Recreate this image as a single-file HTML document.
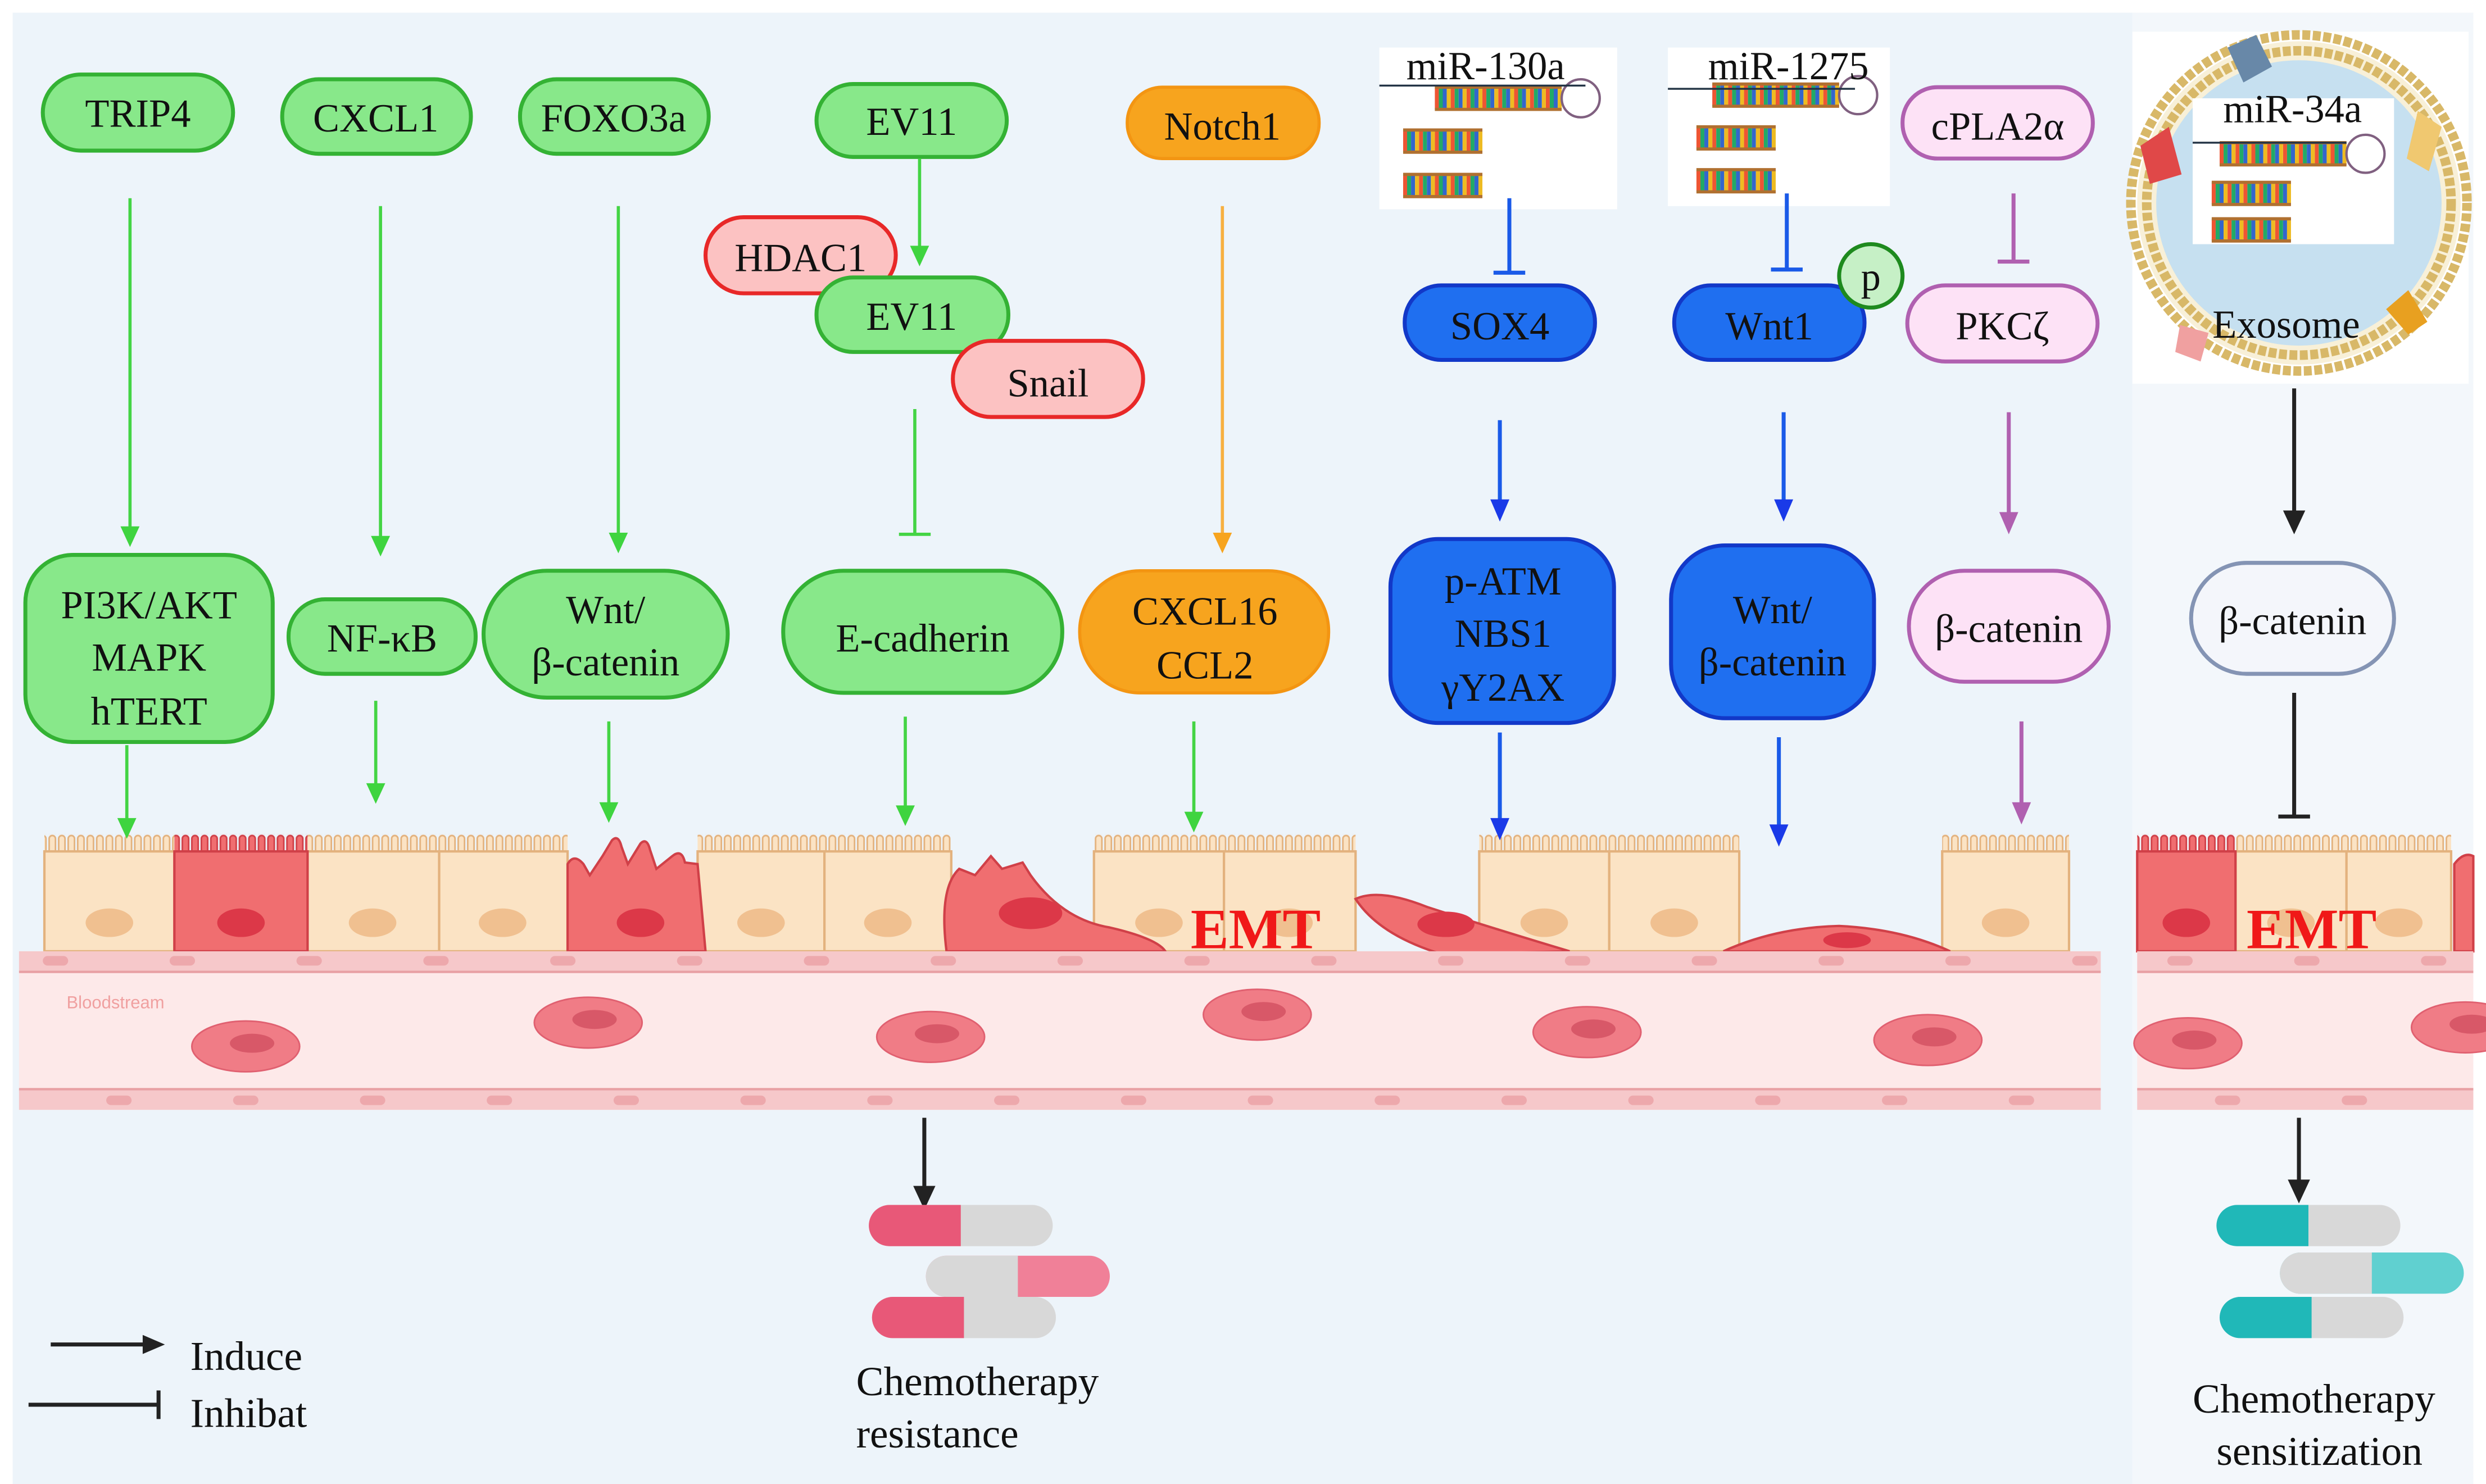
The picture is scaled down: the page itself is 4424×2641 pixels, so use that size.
<!DOCTYPE html>
<html><head><meta charset="utf-8">
<style>
html,body{margin:0;padding:0;background:#fff;}
svg{display:block;}
text{font-family:"Liberation Serif","DejaVu Serif",serif;fill:#111;}
</style></head>
<body>
<svg width="4424" height="2641" viewBox="0 0 1568 936" preserveAspectRatio="none" xmlns="http://www.w3.org/2000/svg">
<defs>
<pattern id="mv" x="0" y="526" width="6" height="14" patternUnits="userSpaceOnUse"><rect x="1" y="1" width="4" height="14" rx="2" fill="#fbe3c4" stroke="#e3b27e" stroke-width="1"/></pattern>
<pattern id="mvr" x="0" y="526" width="6" height="14" patternUnits="userSpaceOnUse"><rect x="1" y="1" width="4" height="14" rx="2" fill="#f06e70" stroke="#d04048" stroke-width="1"/></pattern>
<g id="hp">
<line x1="0" y1="7" x2="80" y2="7" stroke="#e53" stroke-width="14" stroke-dasharray="2.5 7.5"/>
<line x1="2.5" y1="7" x2="80" y2="7" stroke="#2a6" stroke-width="14" stroke-dasharray="2.5 7.5"/>
<line x1="5" y1="7" x2="80" y2="7" stroke="#36c" stroke-width="14" stroke-dasharray="2.5 7.5"/>
<line x1="7.5" y1="7" x2="80" y2="7" stroke="#eb2" stroke-width="14" stroke-dasharray="2.5 7.5"/>
<path d="M0,0 h80 M0,14 h80" stroke="#b07030" stroke-width="2" fill="none"/>
<circle cx="92" cy="7" r="12" fill="#fff" stroke="#806080" stroke-width="1.5"/>
</g>
<g id="hps">
<line x1="0" y1="7" x2="50" y2="7" stroke="#e53" stroke-width="14" stroke-dasharray="2.5 7.5"/>
<line x1="2.5" y1="7" x2="50" y2="7" stroke="#2a6" stroke-width="14" stroke-dasharray="2.5 7.5"/>
<line x1="5" y1="7" x2="50" y2="7" stroke="#36c" stroke-width="14" stroke-dasharray="2.5 7.5"/>
<line x1="7.5" y1="7" x2="50" y2="7" stroke="#eb2" stroke-width="14" stroke-dasharray="2.5 7.5"/>
<path d="M0,0 h50 M0,14 h50" stroke="#b07030" stroke-width="2" fill="none"/>
</g>
<g id="rbc"><ellipse cx="0" cy="0" rx="34" ry="16" fill="#f07c86" stroke="#e06070"/><ellipse cx="4" cy="-2" rx="14" ry="6" fill="#d85868"/></g>
</defs>
<rect x="0" y="0" width="1568" height="936" fill="#fff"/>
<rect x="8" y="8" width="1337" height="928" fill="#edf4fa"/>
<rect x="1345" y="8" width="215" height="928" fill="#f3f7fb"/>

<!-- cells -->
<g stroke-width="1.5">
<g fill="url(#mv)">
<rect x="28" y="526" width="82" height="12"/><rect x="194" y="526" width="83" height="12"/><rect x="277" y="526" width="81" height="12"/>
<rect x="440" y="526" width="80" height="12"/><rect x="520" y="526" width="80" height="12"/><rect x="690" y="526" width="82" height="12"/>
<rect x="772" y="526" width="83" height="12"/><rect x="933" y="526" width="82" height="12"/><rect x="1015" y="526" width="82" height="12"/>
<rect x="1225" y="526" width="80" height="12"/><rect x="1410" y="526" width="70" height="12"/><rect x="1480" y="526" width="66" height="12"/>
</g>
<g fill="url(#mvr)"><rect x="110" y="526" width="84" height="12"/><rect x="1348" y="526" width="62" height="12"/></g>
<g fill="#fbe3c4" stroke="#e3b27e">
<rect x="28" y="537" width="82" height="63"/><rect x="194" y="537" width="83" height="63"/><rect x="277" y="537" width="81" height="63"/>
<rect x="440" y="537" width="80" height="63"/><rect x="520" y="537" width="80" height="63"/><rect x="690" y="537" width="82" height="63"/>
<rect x="772" y="537" width="83" height="63"/><rect x="933" y="537" width="82" height="63"/><rect x="1015" y="537" width="82" height="63"/>
<rect x="1225" y="537" width="80" height="63"/><rect x="1410" y="537" width="70" height="63"/><rect x="1480" y="537" width="66" height="63"/>
</g>
<g fill="#f06e70" stroke="#d04048">
<rect x="110" y="537" width="84" height="63"/><rect x="1348" y="537" width="62" height="63"/>
<path d="M358,600 L358,545 Q362,538 368,545 L372,552 L380,540 L386,530 Q390,526 392,534 L396,545 L404,532 Q408,528 410,536 L414,548 L424,540 Q430,535 432,544 L440,545 L445,600 Z"/>
<path d="M597,600 Q592,560 605,548 L615,552 L625,540 L632,548 L645,544 L650,552 Q670,580 700,585 Q730,592 735,600 Z"/>
<path d="M855,567 Q870,560 900,572 Q940,585 990,600 L910,602 Q870,590 855,567 Z"/>
<path d="M1087,600 Q1120,585 1160,584 Q1200,586 1230,600 Z"/>
<path d="M1548,600 L1548,545 Q1554,537 1560,540 L1560,600Z"/>
</g>
<g fill="#f0c090">
<ellipse cx="69" cy="582" rx="15" ry="9"/><ellipse cx="235" cy="582" rx="15" ry="9"/><ellipse cx="317" cy="582" rx="15" ry="9"/>
<ellipse cx="480" cy="582" rx="15" ry="9"/><ellipse cx="560" cy="582" rx="15" ry="9"/><ellipse cx="731" cy="582" rx="15" ry="9"/>
<ellipse cx="813" cy="582" rx="15" ry="9"/><ellipse cx="974" cy="582" rx="15" ry="9"/><ellipse cx="1056" cy="582" rx="15" ry="9"/>
<ellipse cx="1265" cy="582" rx="15" ry="9"/><ellipse cx="1445" cy="582" rx="15" ry="9"/><ellipse cx="1513" cy="582" rx="15" ry="9"/>
</g>
<g fill="#dc3848">
<ellipse cx="152" cy="582" rx="15" ry="9"/><ellipse cx="1379" cy="582" rx="15" ry="9"/><ellipse cx="404" cy="582" rx="15" ry="9"/>
<ellipse cx="650" cy="576" rx="20" ry="10"/><ellipse cx="912" cy="583" rx="18" ry="8"/><ellipse cx="1165" cy="593" rx="15" ry="5"/>
</g>
</g>

<!-- vessels -->
<g>
<rect x="12" y="600" width="1313" height="100" fill="#fde9e9"/>
<rect x="1348" y="600" width="212" height="100" fill="#fde9e9"/>
<g fill="#f6c8ca"><rect x="12" y="600" width="1313" height="13"/><rect x="12" y="687" width="1313" height="13"/><rect x="1348" y="600" width="212" height="13"/><rect x="1348" y="687" width="212" height="13"/></g>
<g stroke="#e8a0a4" stroke-width="1.5"><line x1="12" y1="613" x2="1325" y2="613"/><line x1="12" y1="687" x2="1325" y2="687"/><line x1="1348" y1="613" x2="1560" y2="613"/><line x1="1348" y1="687" x2="1560" y2="687"/></g>
<g stroke="#eda8ac" stroke-width="6" stroke-dasharray="10 70" stroke-linecap="round"><line x1="30" y1="606" x2="1320" y2="606"/><line x1="70" y1="694" x2="1320" y2="694"/><line x1="1370" y1="606" x2="1560" y2="606"/><line x1="1400" y1="694" x2="1560" y2="694"/></g>
<use href="#rbc" x="155" y="660"/><use href="#rbc" x="371" y="645"/><use href="#rbc" x="587" y="654"/><use href="#rbc" x="793" y="640"/>
<use href="#rbc" x="1001" y="651"/><use href="#rbc" x="1216" y="656"/><use href="#rbc" x="1380" y="658"/><use href="#rbc" x="1555" y="648"/>
</g>

<!-- Green nodes -->
<g stroke="#34b234" stroke-width="2.5" fill="#88e88a">
<rect x="27" y="47" width="120" height="48" rx="24"/>
<rect x="178" y="50" width="119" height="47" rx="23"/>
<rect x="328" y="50" width="119" height="47" rx="23"/>
<rect x="515" y="53" width="120" height="46" rx="23"/>
<rect x="16" y="350" width="156" height="118" rx="30"/>
<rect x="182" y="378" width="118" height="47" rx="23"/>
<rect x="305" y="360" width="154" height="80" rx="40"/>
<rect x="494" y="360" width="176" height="77" rx="38"/>
</g>
<rect x="445" y="137" width="120" height="48" rx="24" fill="#fcc2c2" stroke="#e82828" stroke-width="2.5"/>
<rect x="515" y="175" width="121" height="47" rx="23" fill="#88e88a" stroke="#34b234" stroke-width="2.5"/>
<rect x="601" y="215" width="120" height="48" rx="24" fill="#fcc2c2" stroke="#e82828" stroke-width="2.5"/>
<rect x="711" y="55" width="121" height="45" rx="22" fill="#f7a41e" stroke="#f39512" stroke-width="2"/>
<rect x="681" y="360" width="157" height="77" rx="38" fill="#f7a41e" stroke="#f39512" stroke-width="2"/>
<g fill="#1f6ff0" stroke="#1238c8" stroke-width="2.5">
<rect x="886" y="180" width="120" height="47" rx="23"/>
<rect x="1056" y="180" width="120" height="47" rx="23"/>
<rect x="877" y="340" width="141" height="116" rx="30"/>
<rect x="1054" y="344" width="128" height="109" rx="34"/>
</g>
<circle cx="1180" cy="174" r="20" fill="#c6f0c6" stroke="#1e8a1e" stroke-width="2.5"/>
<g fill="#fde2f6" stroke="#b060b0" stroke-width="2.5">
<rect x="1200" y="55" width="120" height="45" rx="22"/>
<rect x="1203" y="180" width="120" height="48" rx="24"/>
<rect x="1204" y="360" width="126" height="70" rx="35"/>
</g>
<rect x="1382" y="355" width="128" height="70" rx="35" fill="#f4f6fb" stroke="#8494b4" stroke-width="2.5"/>

<!-- labels -->
<g font-size="25" text-anchor="middle">
<text x="87" y="80">TRIP4</text>
<text x="237" y="83">CXCL1</text>
<text x="387" y="83">FOXO3a</text>
<text x="575" y="85">EV11</text>
<text x="505" y="171">HDAC1</text>
<text x="575" y="208">EV11</text>
<text x="661" y="250">Snail</text>
<text x="771" y="88">Notch1</text>
<text x="94" y="390">PI3K/AKT</text>
<text x="94" y="423">MAPK</text>
<text x="94" y="457">hTERT</text>
<text x="241" y="411">NF-κB</text>
<text x="382" y="393">Wnt/</text>
<text x="382" y="426">β-catenin</text>
<text x="582" y="411">E-cadherin</text>
<text x="760" y="394">CXCL16</text>
<text x="760" y="428">CCL2</text>
<text x="946" y="214">SOX4</text>
<text x="1116" y="214">Wnt1</text>
<text x="1180" y="183">p</text>
<text x="1260" y="88">cPLA2α</text>
<text x="1263" y="214">PKCζ</text>
<text x="948" y="375">p-ATM</text>
<text x="948" y="408">NBS1</text>
<text x="948" y="442">γY2AX</text>
<text x="1118" y="393">Wnt/</text>
<text x="1118" y="426">β-catenin</text>
<text x="1267" y="405">β-catenin</text>
<text x="1446" y="400">β-catenin</text>
</g>

<!-- miR boxes -->
<rect x="870" y="30" width="150" height="102" fill="#fff"/>
<rect x="1052" y="30" width="140" height="100" fill="#fff"/>
<use href="#hp" x="905" y="55"/><use href="#hps" x="885" y="82"/><use href="#hps" x="885" y="110"/>
<use href="#hp" x="1080" y="53"/><use href="#hps" x="1070" y="80"/><use href="#hps" x="1070" y="107"/>
<line x1="870" y1="54" x2="1000" y2="54" stroke="#234" stroke-width="1.2"/>
<line x1="1052" y1="56" x2="1170" y2="56" stroke="#234" stroke-width="1.2"/>
<g font-size="25" text-anchor="middle">
<text x="937" y="50">miR-130a</text>
<text x="1128" y="50">miR-1275</text>
</g>

<!-- exosome -->
<rect x="1345" y="20" width="212" height="222" fill="#fff"/>
<circle cx="1450" cy="128" r="102" fill="#f8f0d8"/>
<circle cx="1450" cy="128" r="106" fill="none" stroke="#d8b868" stroke-width="6" stroke-dasharray="5 1.6"/>
<circle cx="1450" cy="128" r="96" fill="none" stroke="#d8b868" stroke-width="6" stroke-dasharray="5 1.6"/>
<circle cx="1450" cy="128" r="90" fill="#c6e0f0"/>
<rect x="1383" y="62" width="127" height="92" fill="#fff"/>
<use href="#hp" x="1400" y="90"/><use href="#hps" x="1395" y="115"/><use href="#hps" x="1395" y="138"/>
<line x1="1383" y1="90" x2="1480" y2="90" stroke="#234" stroke-width="1.2"/>
<text x="1446" y="77" font-size="25" text-anchor="middle">miR-34a</text>
<path d="M1350,92 l18,-12 l8,30 l-20,6z" fill="#e04848"/>
<path d="M1405,30 l18,-8 l10,20 l-18,10z" fill="#6888a8"/>
<path d="M1525,70 l15,10 l-8,28 l-14,-8z" fill="#f0c870"/>
<path d="M1505,195 l14,-12 l12,20 l-12,8z" fill="#e8a020"/>
<path d="M1375,205 l18,5 l-5,18 l-16,-6z" fill="#f0a0a0"/>
<text x="1442" y="213" font-size="25" text-anchor="middle">Exosome</text>

<!-- arrows -->
<g stroke="#44d444" stroke-width="2" fill="none">
<line x1="82" y1="125" x2="82" y2="334"/><line x1="240" y1="130" x2="240" y2="340"/><line x1="390" y1="130" x2="390" y2="338"/>
<line x1="580" y1="100" x2="580" y2="158"/><line x1="577" y1="258" x2="577" y2="337"/><line x1="567" y1="337" x2="587" y2="337"/>
<line x1="80" y1="470" x2="80" y2="518"/><line x1="237" y1="442" x2="237" y2="496"/><line x1="384" y1="455" x2="384" y2="508"/>
<line x1="571" y1="452" x2="571" y2="510"/><line x1="753" y1="455" x2="753" y2="514"/>
</g>
<g fill="#3fd43f">
<path d="M76,332 h12 l-6,13z"/><path d="M234,338 h12 l-6,13z"/><path d="M384,336 h12 l-6,13z"/><path d="M574,155 h12 l-6,13z"/>
<path d="M74,516 h12 l-6,13z"/><path d="M231,494 h12 l-6,13z"/><path d="M378,506 h12 l-6,13z"/><path d="M565,508 h12 l-6,13z"/><path d="M747,512 h12 l-6,13z"/>
</g>
<line x1="771" y1="130" x2="771" y2="338" stroke="#f7b040" stroke-width="2"/><path d="M765,336 h12 l-6,13z" fill="#f7a41e"/>
<g stroke="#1a5ae8" stroke-width="2.5">
<line x1="952" y1="125" x2="952" y2="172"/><line x1="942" y1="172" x2="962" y2="172"/>
<line x1="1127" y1="122" x2="1127" y2="170"/><line x1="1117" y1="170" x2="1137" y2="170"/>
<line x1="946" y1="265" x2="946" y2="317"/><line x1="1125" y1="260" x2="1125" y2="317"/>
<line x1="946" y1="462" x2="946" y2="518"/><line x1="1122" y1="465" x2="1122" y2="522"/>
</g>
<g fill="#1a3ae8"><path d="M940,315 h12 l-6,14z"/><path d="M1119,315 h12 l-6,14z"/><path d="M940,516 h12 l-6,14z"/><path d="M1116,520 h12 l-6,14z"/></g>
<g stroke="#b060b0" stroke-width="2.5">
<line x1="1270" y1="122" x2="1270" y2="165"/><line x1="1260" y1="165" x2="1280" y2="165"/>
<line x1="1267" y1="260" x2="1267" y2="325"/><line x1="1275" y1="455" x2="1275" y2="508"/>
</g>
<g fill="#b060b0"><path d="M1261,323 h12 l-6,14z"/><path d="M1269,506 h12 l-6,14z"/></g>
<g stroke="#222" stroke-width="2.5">
<line x1="1447" y1="245" x2="1447" y2="325"/><line x1="1447" y1="437" x2="1447" y2="515"/><line x1="1437" y1="515" x2="1457" y2="515"/>
<line x1="583" y1="705" x2="583" y2="750"/><line x1="1450" y1="705" x2="1450" y2="746"/>
<line x1="32" y1="848" x2="92" y2="848"/><line x1="18" y1="886" x2="100" y2="886"/><line x1="100" y1="877" x2="100" y2="895"/>
</g>
<g fill="#222"><path d="M1440,322 h14 l-7,15z"/><path d="M576,748 h14 l-7,15z"/><path d="M1443,744 h14 l-7,15z"/><path d="M90,842 l14,6 l-14,6z"/></g>

<!-- pills -->
<g>
<rect x="548" y="760" width="116" height="26" rx="13" fill="#d8d8d8"/><path d="M561,760 h45 v26 h-45 a13,13 0 0 1 0,-26z" fill="#e85878"/>
<rect x="584" y="792" width="116" height="26" rx="13" fill="#f08098"/><path d="M597,792 h45 v26 h-45 a13,13 0 0 1 0,-26z" fill="#d8d8d8"/>
<rect x="550" y="818" width="116" height="26" rx="13" fill="#d8d8d8"/><path d="M563,818 h45 v26 h-45 a13,13 0 0 1 0,-26z" fill="#e85878"/>
<rect x="1398" y="760" width="116" height="26" rx="13" fill="#d8d8d8"/><path d="M1411,760 h45 v26 h-45 a13,13 0 0 1 0,-26z" fill="#20b8b8"/>
<rect x="1438" y="790" width="116" height="26" rx="13" fill="#60d0d0"/><path d="M1451,790 h45 v26 h-45 a13,13 0 0 1 0,-26z" fill="#d8d8d8"/>
<rect x="1400" y="818" width="116" height="26" rx="13" fill="#d8d8d8"/><path d="M1413,818 h45 v26 h-45 a13,13 0 0 1 0,-26z" fill="#20b8b8"/>
</g>

<g font-size="26">
<text x="120" y="864">Induce</text>
<text x="120" y="900">Inhibat</text>
<text x="540" y="880">Chemotherapy</text>
<text x="540" y="913">resistance</text>
<text x="1383" y="891">Chemotherapy</text>
<text x="1398" y="924">sensitization</text>
</g>
<g font-size="36" font-weight="bold" text-anchor="middle">
<text x="792" y="598" style="fill:#f01818">EMT</text>
<text x="1458" y="598" style="fill:#f01818">EMT</text>
</g>
<text x="42" y="636" font-size="11" style="fill:#f0a0a0;font-family:'Liberation Sans',sans-serif">Bloodstream</text>
</svg>
</body></html>
